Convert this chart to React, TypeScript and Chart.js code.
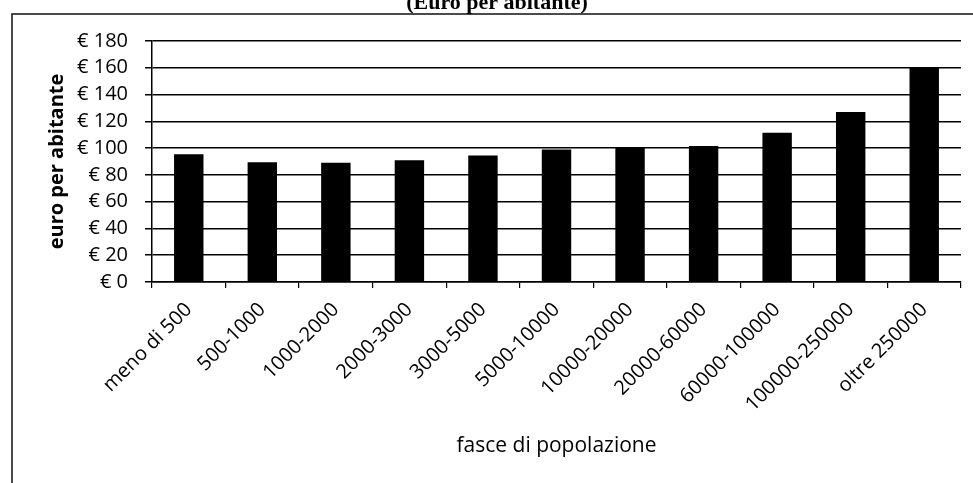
import React, { useEffect, useRef } from "react";
import { Chart, registerables } from "chart.js";

Chart.register(...registerables);

const categories = [
  "meno di 500",
  "500-1000",
  "1000-2000",
  "2000-3000",
  "3000-5000",
  "5000-10000",
  "10000-20000",
  "20000-60000",
  "60000-100000",
  "100000-250000",
  "oltre 250000",
];
const euroPerAbitante = [95.5, 89.5, 89, 91, 94.5, 99, 100.8, 101.5, 111.5, 127, 160];
const yMin = 0;
const yMax = 180;
const yStep = 20;
const titleText = "(Euro per abitante)";
const yTitle = "euro per abitante";
const xTitle = "fasce di popolazione";

const W = 973;
const H = 483;

const framePlugin = {
  id: "frame",
  afterDraw(chart: any) {
    const ctx = chart.ctx;
    ctx.save();
    ctx.strokeStyle = "#111";
    ctx.lineWidth = 1.5;
    ctx.beginPath();
    ctx.moveTo(12, H);
    ctx.lineTo(12, 14);
    ctx.lineTo(W, 14);
    ctx.stroke();
    ctx.fillStyle = "#000";
    ctx.font = "bold 22px 'Liberation Serif', 'Times New Roman', serif";
    ctx.textAlign = "center";
    ctx.textBaseline = "alphabetic";
    ctx.fillText(titleText, 497, 9);
    ctx.restore();
  },
};

export default function App() {
  const ref = useRef<HTMLCanvasElement>(null);
  useEffect(() => {
    if (!ref.current) return;
    const font = "'Open Sans', sans-serif";
    const chart = new Chart(ref.current, {
      type: "bar",
      data: {
        labels: categories,
        datasets: [
          {
            data: euroPerAbitante,
            backgroundColor: "#000",
            borderWidth: 0,
            barPercentage: 0.4,
            categoryPercentage: 1.0,
          },
        ],
      },
      options: {
        animation: false,
        responsive: false,
        devicePixelRatio: 1,
        layout: { padding: { left: 0, right: 12, top: 41, bottom: 0 } },
        plugins: {
          legend: { display: false },
          tooltip: { enabled: false },
          title: { display: false },
        },
        scales: {
          x: {
            grid: {
              offset: true,
              drawOnChartArea: false,
              drawTicks: true,
              tickLength: 6,
              color: "#000",
              lineWidth: 1.2,
            },
            border: { display: true, color: "#000", width: 1.5 },
            ticks: {
              color: "#000",
              font: { family: font, size: 20 },
              maxRotation: 45,
              minRotation: 45,
              autoSkip: false,
              padding: 10,
            },
            title: {
              display: true,
              text: xTitle,
              color: "#000",
              font: { family: font, size: 21 },
              padding: { top: 0, bottom: 24 },
            },
            afterFit(scale: any) {
              scale.height = H - 282;
              scale.paddingLeft = 0;
              scale.paddingRight = 0;
            },
          },
          y: {
            min: yMin,
            max: yMax,
            grid: {
              color: "#000",
              lineWidth: 1.5,
              drawTicks: true,
              tickLength: 7,
            },
            border: { display: true, color: "#000", width: 1.5 },
            ticks: {
              stepSize: yStep,
              autoSkip: false,
              color: "#000",
              font: { family: font, size: 20 },
              padding: 17,
              callback: (v: any) => "€ " + v,
            },
            title: {
              display: true,
              text: yTitle,
              color: "#000",
              font: { family: font, size: 20, weight: "bold" },
              padding: { top: 45, bottom: 0 },
            },
            afterFit(scale: any) {
              scale.width = 152;
              scale.paddingTop = 0;
              scale.paddingBottom = 0;
            },
          },
        },
      },
      plugins: [framePlugin],
    });
    return () => chart.destroy();
  }, []);
  return (
    <div style={{ position: "absolute", left: 0, top: 0, width: W, height: H, background: "#fff" }}>
      <canvas ref={ref} width={W} height={H} style={{ display: "block", width: W, height: H }} />
    </div>
  );
}
